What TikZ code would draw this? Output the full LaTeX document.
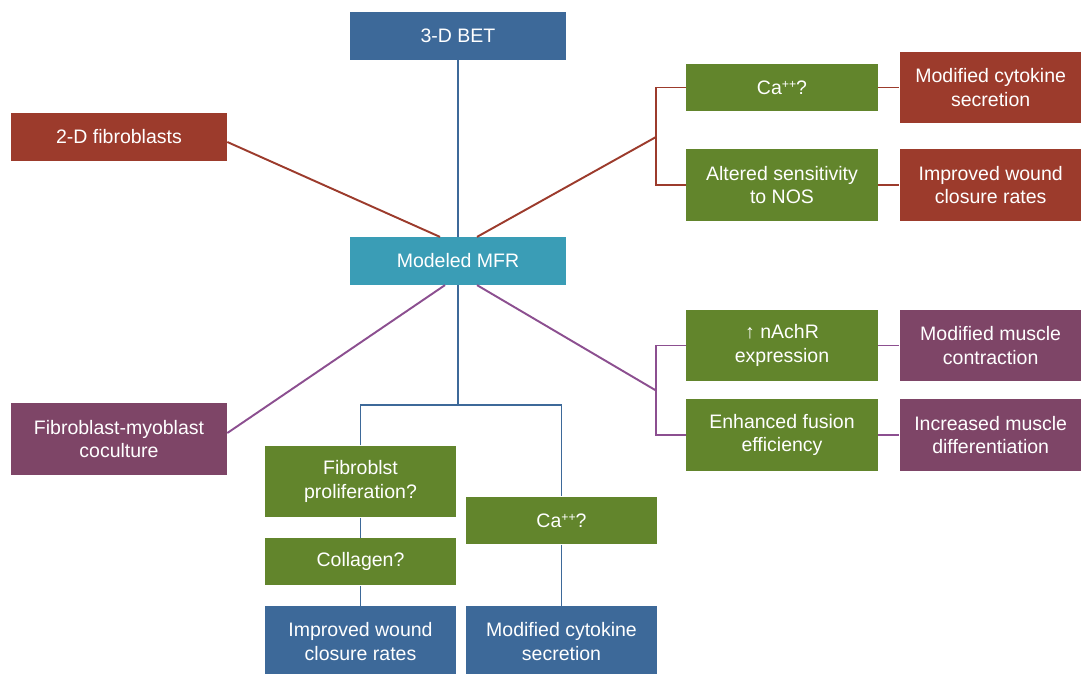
\documentclass[tikz,border=0pt]{standalone}
\usepackage{fontspec}
\setmainfont{Liberation Sans}
\usepackage{tikz}
\usetikzlibrary{positioning}
\definecolor{boxblue}{HTML}{3D6999}
\definecolor{boxteal}{HTML}{3A9DB6}
\definecolor{boxred}{HTML}{9C3B2C}
\definecolor{boxpurple}{HTML}{7E4567}
\definecolor{boxgreen}{HTML}{62852C}
\definecolor{linepurple}{HTML}{8C4F90}
\newcommand{\caion}{Ca\raisebox{0.55ex}{\fontsize{7}{7}\selectfont ++}?}
\tikzset{
  box/.style={shape=rectangle,inner sep=0pt,align=center,text=white,
    font=\fontsize{11.1}{13.6}\selectfont},
  onerow/.style={minimum height=0.95cm},
  tworow/.style={minimum height=1.43cm},
  bluebox/.style={box,fill=boxblue},
  tealbox/.style={box,fill=boxteal},
  redbox/.style={box,fill=boxred},
  purplebox/.style={box,fill=boxpurple},
  greenbox/.style={box,fill=boxgreen},
  blueline/.style={line width=1.1pt,draw=boxblue},
  redline/.style={line width=1.1pt,draw=boxred},
  purpleline/.style={line width=1.1pt,draw=linepurple}
}

\begin{document}
\begin{tikzpicture}[x=0.02cm,y=-0.02cm,node distance=0.42cm]
      \useasboundingbox (0,0) rectangle (1081,673);
      % centre column
      \node[bluebox,onerow,minimum width=4.32cm] (bet) at (458,36) {3-D BET};
      \node[tealbox,onerow,minimum width=4.32cm] (mfr) at (458,261) {Modeled MFR};
      % left column
      \node[redbox,onerow,minimum width=4.32cm] (fib2d) at (119,137) {2-D fibroblasts};
      \node[purplebox,tworow,minimum width=4.32cm] (cocult) at (119,439) {Fibroblast-myoblast\\coculture};
      % right side
      \begin{scope}[every node/.append style={minimum width=3.84cm}]
        \node[greenbox,onerow] (ca1) at (782,87.5) {\caion};
        \node[greenbox,tworow] (nos) at (782,185) {Altered sensitivity\\to NOS};
        \node[greenbox,tworow] (nach) at (782,345.5) {\char"2191{} nAchR\\expression};
        \node[greenbox,tworow] (fusion) at (782,435) {Enhanced fusion\\efficiency};
      \end{scope}
      \begin{scope}[every node/.append style={minimum width=3.64cm}]
        \node[redbox,tworow,right=of ca1] (cyto1) {Modified cytokine\\secretion};
        \node[redbox,tworow,right=of nos] (wound1) {Improved wound\\closure rates};
        \node[purplebox,tworow,right=of nach] (contr) {Modified muscle\\contraction};
        \node[purplebox,tworow,right=of fusion] (diff) {Increased muscle\\differentiation};
      \end{scope}
      % bottom branch
      \begin{scope}[every node/.append style={minimum width=3.82cm}]
        \node[greenbox,tworow] (fprol) at (360.5,481.5) {Fibroblst\\proliferation?};
        \node[greenbox,onerow,below=0.4cm of fprol] (coll) {Collagen?};
        \node[bluebox,tworow,below=0.4cm of coll] (wound2) {Improved wound\\closure rates};
        \node[greenbox,onerow] (ca3) at (561.5,520.5) {\caion};
        \node[bluebox,tworow,below=1.22cm of ca3] (cyto2) {Modified cytokine\\secretion};
      \end{scope}
      \coordinate (rj1) at (656,137);
      \coordinate (rj2) at (656,390.5);
      \coordinate (split) at (458,405);
      \draw[blueline] (bet) -- (mfr);
      \draw[redline] ([yshift=-0.1cm]fib2d.east) -- ([xshift=-0.36cm]mfr.north);
      \draw[redline] ([xshift=0.38cm]mfr.north) -- (rj1);
      \draw[redline] (ca1.west) -| (rj1) |- (nos.west);
      \draw[redline] (ca1) -- (cyto1);
      \draw[redline] (nos) -- (wound1);
      \draw[purpleline] ([xshift=-0.26cm]mfr.south) -- ([yshift=0.12cm]cocult.east);
      \draw[purpleline] ([xshift=0.38cm]mfr.south) -- (rj2);
      \draw[purpleline] (nach.west) -| (rj2) |- (fusion.west);
      \draw[purpleline] (nach) -- (contr);
      \draw[purpleline] (fusion) -- (diff);
      \draw[blueline] (mfr) -- (split);
      \draw[blueline] (fprol.north) |- (split) -| (ca3.north);
      \draw[blueline] (fprol) -- (coll);
      \draw[blueline] (coll) -- (wound2);
      \draw[blueline] (ca3) -- (cyto2);
    \end{tikzpicture}
\end{document}
